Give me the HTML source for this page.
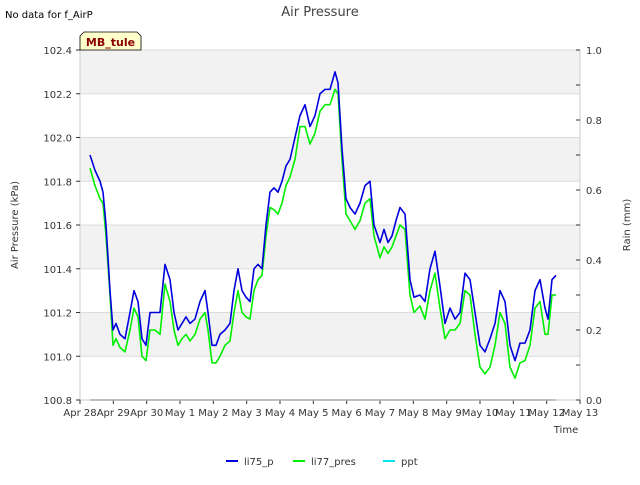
<!DOCTYPE html>
<html><head><meta charset="utf-8"><style>
body{margin:0;background:#fff;font-family:"Liberation Sans","DejaVu Sans",sans-serif;}
svg text{font-family:"DejaVu Sans","Liberation Sans",sans-serif;}
</style></head><body>
<svg id="chart" width="640" height="480" xmlns="http://www.w3.org/2000/svg">
<rect width="640" height="480" fill="#fff"/>
<g id="bands"></g>
<g id="grid"></g>
<text x="5" y="18" font-size="10" fill="#000">No data for f_AirP</text>
<text x="320" y="16" font-size="13" fill="#444" text-anchor="middle">Air Pressure</text>
<g id="axes"></g>
<g id="series"></g>
<g>
<path d="M80,50 L80,36 L84,32 L137,32 L141,36 L141,50 Z" fill="#ffffcc" stroke="#000" stroke-width="0.8"/>
<text x="110.5" y="46" font-size="11" font-weight="bold" fill="#8b0000" text-anchor="middle">MB_tule</text>
</g>
<text transform="translate(18,225) rotate(-90)" font-size="10" fill="#333" text-anchor="middle">Air Pressure (kPa)</text>
<text transform="translate(630,225) rotate(-90)" font-size="10" fill="#333" text-anchor="middle">Rain (mm)</text>
<text x="566" y="433" font-size="10" fill="#333" text-anchor="middle">Time</text>
<g id="legend"></g>
</svg>
<script>
const xTickLabels=["Apr 28","Apr 29","Apr 30","May 1","May 2","May 3","May 4","May 5","May 6","May 7","May 8","May 9","May 10","May 11","May 12","May 13"];
const yTicks=[100.8,101.0,101.2,101.4,101.6,101.8,102.0,102.2,102.4];
const y2Ticks=[0.0,0.2,0.4,0.6,0.8,1.0];
const days=[0.3,0.45,0.6,0.69,0.78,0.9,0.99,1.08,1.2,1.35,1.5,1.62,1.74,1.86,1.98,2.1,2.25,2.4,2.55,2.7,2.82,2.94,3.06,3.18,3.3,3.45,3.6,3.75,3.84,3.96,4.08,4.2,4.35,4.5,4.62,4.74,4.86,4.98,5.1,5.22,5.34,5.46,5.58,5.7,5.82,5.94,6.06,6.18,6.3,6.45,6.6,6.75,6.9,7.05,7.2,7.35,7.5,7.65,7.74,7.86,7.98,8.1,8.25,8.4,8.55,8.7,8.82,9.0,9.12,9.24,9.36,9.48,9.6,9.75,9.9,10.02,10.2,10.35,10.5,10.65,10.8,10.95,11.1,11.25,11.4,11.55,11.7,11.85,12.0,12.15,12.3,12.45,12.6,12.75,12.9,13.05,13.2,13.35,13.5,13.65,13.8,13.95,14.04,14.16,14.28];
const li75=[101.92,101.85,101.80,101.75,101.6,101.3,101.12,101.15,101.10,101.08,101.2,101.3,101.25,101.08,101.05,101.2,101.2,101.2,101.42,101.35,101.2,101.12,101.15,101.18,101.15,101.17,101.25,101.3,101.2,101.05,101.05,101.1,101.12,101.15,101.3,101.4,101.3,101.27,101.25,101.4,101.42,101.4,101.6,101.75,101.77,101.75,101.8,101.87,101.9,102.0,102.1,102.15,102.05,102.1,102.2,102.22,102.22,102.3,102.25,101.95,101.72,101.68,101.65,101.7,101.78,101.8,101.6,101.52,101.58,101.52,101.55,101.62,101.68,101.65,101.35,101.27,101.28,101.25,101.4,101.48,101.32,101.15,101.22,101.17,101.2,101.38,101.35,101.2,101.05,101.02,101.08,101.15,101.3,101.25,101.05,100.98,101.06,101.06,101.12,101.3,101.35,101.22,101.17,101.35,101.37];
const li77=[101.86,101.78,101.72,101.70,101.55,101.28,101.05,101.08,101.04,101.02,101.12,101.22,101.18,101.0,100.98,101.12,101.12,101.1,101.33,101.25,101.12,101.05,101.08,101.1,101.07,101.1,101.17,101.2,101.12,100.97,100.97,101.0,101.05,101.07,101.2,101.3,101.2,101.18,101.17,101.3,101.35,101.37,101.55,101.68,101.67,101.65,101.7,101.78,101.82,101.9,102.05,102.05,101.97,102.02,102.12,102.15,102.15,102.22,102.2,101.9,101.65,101.62,101.58,101.62,101.7,101.72,101.55,101.45,101.5,101.47,101.5,101.55,101.6,101.58,101.28,101.2,101.23,101.17,101.3,101.38,101.22,101.08,101.12,101.12,101.15,101.3,101.28,101.1,100.95,100.92,100.95,101.05,101.2,101.15,100.95,100.9,100.97,100.98,101.05,101.22,101.25,101.1,101.1,101.28,101.28];
const pptDays=[0.3,14.28];
const ppt=[0,0];
const L=80,R=580,T=50,B=400;
const xs=d=>L+d*(R-L)/15;
const ys=v=>B-(v-100.8)*(B-T)/1.6;
const y2s=v=>B-v*(B-T)/1.0;
const NS="http://www.w3.org/2000/svg";
function mk(tag,attrs,parent){const e=document.createElementNS(NS,tag);for(const k in attrs)e.setAttribute(k,attrs[k]);parent.appendChild(e);return e;}
const bands=document.getElementById('bands'),grid=document.getElementById('grid'),axes=document.getElementById('axes'),series=document.getElementById('series'),legend=document.getElementById('legend');
for(let i=0;i<yTicks.length-1;i++){
  if((yTicks.length-2-i)%2===0){const r=mk('rect',{x:L,y:ys(yTicks[i+1]),width:R-L,height:ys(yTicks[i])-ys(yTicks[i+1]),fill:'#f2f2f2'},bands);
  
  }
}
yTicks.forEach(v=>{const l=mk('line',{x1:L,x2:R,y1:ys(v),y2:ys(v),stroke:'#dcdcdc','stroke-width':1},grid);

});
mk('line',{x1:L,x2:L,y1:T,y2:B,stroke:'#ccc'},axes);
mk('line',{x1:R,x2:R,y1:T,y2:B,stroke:'#ccc'},axes);
mk('line',{x1:L,x2:R,y1:B,y2:B,stroke:'#ccc'},axes);
yTicks.forEach(v=>{mk('line',{x1:L-4,x2:L,y1:ys(v),y2:ys(v),stroke:'#333'},axes);
const t=mk('text',{x:L-8,y:ys(v)+4,'font-size':10,fill:'#333','text-anchor':'end'},axes);t.textContent=v.toFixed(1);

});
y2Ticks.forEach(v=>{const t=mk('text',{x:R+6,y:y2s(v)+4,'font-size':10,fill:'#333'},axes);t.textContent=v.toFixed(1);

});
for(let v=0;v<=1.0001;v+=0.1){mk('line',{x1:R-4,x2:R,y1:y2s(v),y2:y2s(v),stroke:'#333'},axes);}
xTickLabels.forEach((s,i)=>{mk('line',{x1:xs(i),x2:xs(i),y1:B,y2:B+4,stroke:'#333'},axes);
const t=mk('text',{x:xs(i),y:B+16,'font-size':10,fill:'#333','text-anchor':'middle'},axes);t.textContent=s;

});
function line(dd,vals,sc,color,name){const p=mk('polyline',{points:dd.map((d,i)=>xs(d)+','+sc(vals[i])).join(' '),fill:'none',stroke:color,'stroke-width':1.6,'stroke-linejoin':'round'},series);

}
line(pptDays,ppt,y2s,'#aaaaaa','ppt-line');
line(days,li77,ys,'#00ee00','li77-pres-line');
line(days,li75,ys,'#0000dd','li75-p-line');
[["li75_p","#0000dd",226],["li77_pres","#00ee00",293],["ppt","#00e5ee",383]].forEach(([n,c,x])=>{
const g=mk('g',{},legend);


mk('line',{x1:x,x2:x+12,y1:461,y2:461,stroke:c,'stroke-width':2},g);
const t=mk('text',{x:x+18,y:465,'font-size':10,fill:'#333'},g);t.textContent=n;});
</script>
</body></html>
